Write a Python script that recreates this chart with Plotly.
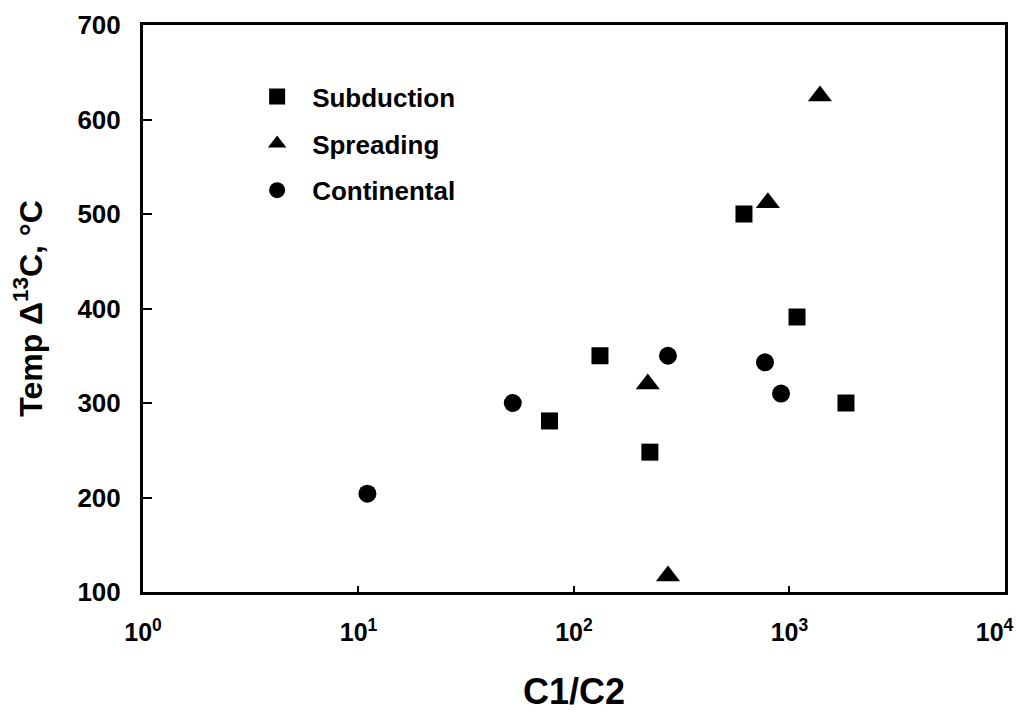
import plotly.graph_objects as go

# Data
subduction_x = [615, 1084, 132, 77, 225, 1829]
subduction_y = [500, 391, 350, 281, 248, 300]

spreading_x = [1385, 794, 220, 273]
spreading_y = [625, 512, 320, 117]

continental_x = [11, 52, 273, 770, 914]
continental_y = [204, 300, 350, 343, 310]

x_tickvals = [1, 10, 100, 1000, 10000]
x_ticktext = ["10<sup>0</sup>", "10<sup>1</sup>", "10<sup>2</sup>", "10<sup>3</sup>",
              "10<sup>4</sup>\u00a0\u00a0\u00a0"]
y_tickvals = [100, 200, 300, 400, 500, 600, 700]

FONT = "Liberation Sans, Arial, Helvetica, sans-serif"

fig = go.Figure()
fig.add_trace(go.Scatter(x=subduction_x, y=subduction_y, mode="markers", name="Subduction",
                         legendgroup="a",
                         marker=dict(symbol="square", size=17, color="black")))
fig.add_trace(go.Scatter(x=spreading_x, y=spreading_y, mode="markers", name="Spreading",
                         legendgroup="b",
                         marker=dict(symbol="triangle-up", size=21, color="black")))
fig.add_trace(go.Scatter(x=continental_x, y=continental_y, mode="markers", name="Continental",
                         legendgroup="c",
                         marker=dict(symbol="circle", size=18, color="black")))

fig.update_layout(
    width=1017, height=716,
    margin=dict(l=143, r=12, t=25, b=124),
    paper_bgcolor="white", plot_bgcolor="white",
    font=dict(family=FONT, color="black"),
    showlegend=True,
    legend=dict(x=0.115, y=0.915, xanchor="left", yanchor="top",
                font=dict(size=26, family=FONT, color="black", weight="bold"),
                bgcolor="rgba(0,0,0,0)", tracegroupgap=10, traceorder="grouped",
                itemwidth=60),
    xaxis=dict(type="log", range=[0, 4.0002], tickvals=x_tickvals, ticktext=x_ticktext,
               ticks="inside", ticklen=6, tickwidth=2, tickcolor="black",
               showline=True, linewidth=3, linecolor="black", mirror=True,
               showgrid=False, zeroline=False, ticklabelstandoff=16,
               ticklabeloverflow="allow", automargin=False,
               tickfont=dict(size=25, family=FONT, color="black", weight="bold"),
               title=dict(text="C1/C2", font=dict(size=36, family=FONT, color="black", weight="bold"),
                          standoff=34)),
    yaxis=dict(range=[100, 700], tickvals=y_tickvals,
               ticks="inside", ticklen=9, tickwidth=2, tickcolor="black",
               showline=True, linewidth=3, linecolor="black", mirror=True,
               showgrid=False, zeroline=False, ticklabelstandoff=14,
               automargin=False,
               tickfont=dict(size=26, family=FONT, color="black", weight="bold"),
               title=dict(text="Temp \u0394<sup>13</sup>C, \u00b0C",
                          font=dict(size=32, family=FONT, color="black", weight="bold"),
                          standoff=26)),
)

fig.write_html("out.html")
